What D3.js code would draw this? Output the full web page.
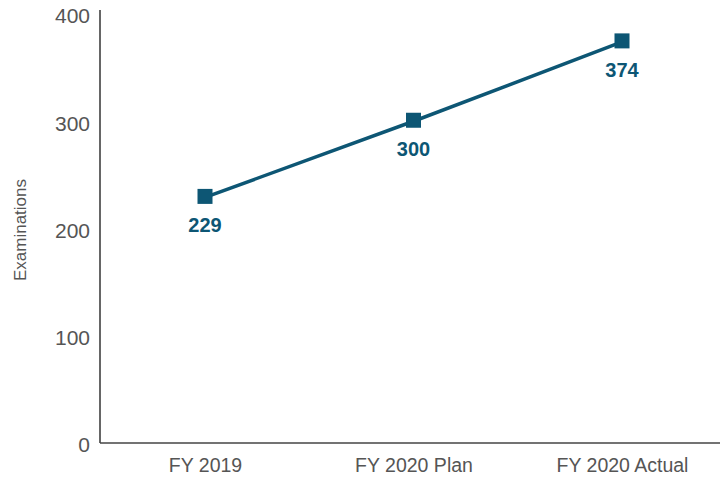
<!DOCTYPE html>
<html><head><meta charset="utf-8">
<script src="https://cdn.jsdelivr.net/npm/d3@7"></script>
<style>body{margin:0;background:#fff}svg{display:block}text{font-family:"Liberation Sans",Arial,sans-serif}</style>
</head><body><svg id="c" width="721" height="479"></svg>
<script>
const categories = ["FY 2019", "FY 2020 Plan", "FY 2020 Actual"];
const values = [229, 300, 374];
const yTicks = [0, 100, 200, 300, 400];
const yTitle = "Examinations";

const svg = d3.select("#c");
const color = "#0d5674", grey = "#555";
const x = d3.scalePoint().domain(categories).range([205, 622]);
const y = d3.scaleLinear().domain([0, 400]).range([443, 14]);

const yAx = svg.append("g").attr("transform", "translate(100,0)")
  .call(d3.axisLeft(y).tickValues(yTicks).tickSize(0).tickPadding(10));
yAx.select(".domain").attr("stroke", "#666").attr("stroke-width", 2).attr("d", "M0,10V443");
yAx.selectAll("text").attr("fill", grey).style("font-size", "21px").attr("dy", "0.42em");

const xAx = svg.append("g").attr("transform", "translate(0,443)")
  .call(d3.axisBottom(x).tickSize(0).tickPadding(15));
xAx.select(".domain").attr("stroke", "#444").attr("stroke-width", 1.5).attr("d", "M100,0H720");
xAx.selectAll("text").attr("fill", grey).style("font-size", "19.5px").attr("dy", "0.71em");

svg.append("text").attr("transform", "translate(26,230) rotate(-90)")
  .attr("text-anchor", "middle").attr("fill", grey).style("font-size", "17px").text(yTitle);

const data = categories.map((c, i) => ({c, v: values[i]}));
svg.append("path").datum(data)
  .attr("d", d3.line().x(d => x(d.c)).y(d => y(d.v)))
  .attr("fill", "none").attr("stroke", color).attr("stroke-width", 3.5);

svg.selectAll("rect.m").data(data).join("rect").attr("class", "m")
  .attr("x", d => x(d.c) - 7.5).attr("y", d => y(d.v) - 8.5)
  .attr("width", 15).attr("height", 15).attr("fill", color);

svg.selectAll("text.lbl").data(data).join("text").attr("class", "lbl")
  .attr("x", d => x(d.c)).attr("y", d => y(d.v) + 35)
  .attr("text-anchor", "middle").attr("fill", color)
  .style("font-size", "20px").style("font-weight", "bold").text(d => d.v);
</script></body></html>
